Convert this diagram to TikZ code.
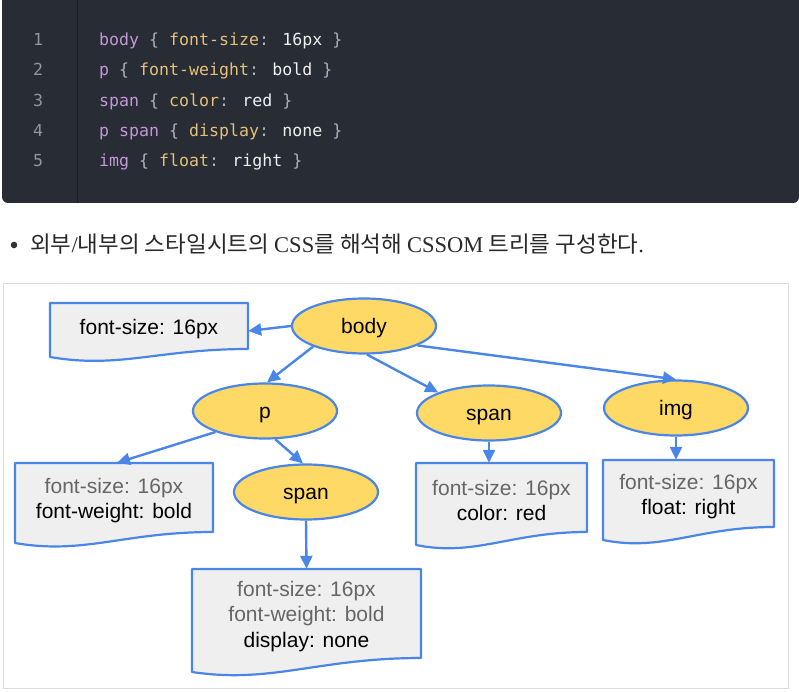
\documentclass[tikz,border=0pt]{standalone}
\usepackage{fontspec}
\setmainfont{Liberation Sans}
\newfontfamily\codefont{DejaVu Sans Mono}
\newfontfamily\krfont{Noto Sans CJK KR}
\newfontfamily\seriffont{Liberation Serif}
\usetikzlibrary{shapes.geometric,arrows.meta,calc}
\definecolor{codebg}{HTML}{282C34}
\definecolor{codeline}{HTML}{1B1E23}
\definecolor{lnum}{HTML}{8F96A0}
\definecolor{csel}{HTML}{C397D8}
\definecolor{cprop}{HTML}{E5C07B}
\definecolor{cbrace}{HTML}{ABB2BF}
\definecolor{cval}{HTML}{F0F0F0}
\definecolor{eblue}{HTML}{4A86E8}
\definecolor{eyellow}{HTML}{FFD966}
\definecolor{boxgray}{HTML}{EFEFEF}
\definecolor{txtgray}{HTML}{666666}
\definecolor{framegray}{HTML}{DDDDDD}
\definecolor{bulletc}{HTML}{333333}
\tikzset{
  codetext/.style={anchor=base west, inner sep=0, font=\codefont\fontsize{16.6}{20}\selectfont},
  lnumtext/.style={anchor=base, inner sep=0, text=lnum, font=\codefont\fontsize{16.6}{20}\selectfont},
  ell/.style={ellipse, draw=eblue, fill=eyellow, line width=2.2pt, minimum width=144pt, minimum height=55pt, inner sep=0, text=black, text height=15pt, text depth=0pt, font=\fontsize{21}{25}\selectfont},
  docline/.style={draw=eblue, fill=boxgray, line width=2.2pt, line join=round},
  docframe/.style={inner sep=0},
  doctext/.style={inner sep=0, align=center, text=black, font=\fontsize{21}{25.5}\selectfont},
  arr/.style={draw=eblue, line width=2.4pt, -{Triangle[length=13pt,width=12pt]}},
}
\newcommand\docbox[7]{%
  \filldraw[docline] ({#2-#4/2},{#3-#5/2}) -- ({#2+#4/2},{#3-#5/2}) -- ({#2+#4/2},{#3+#5/2})
    .. controls ({#2+#4/2-0.45*#4},{#3+#5/2}) and ({#2-#4/2+0.35*#4},{#3+#5/2+#6+12}) ..
    ({#2-#4/2},{#3+#5/2+#6}) -- cycle;
  \node[docframe, minimum width=#4pt, minimum height=#5pt] (#1) at (#2,#3) {};
  \node[doctext] (#1t) at (#2,{#3+3}) {#7};
}
\begin{document}
\begin{tikzpicture}[x=1pt,y=-1pt]
\useasboundingbox (0,0) rectangle (799,692);
% code block
\fill[codebg] (2,0) [rounded corners=6] -- (2,203) -- (799,203) [sharp corners] -- (799,0) -- cycle;
\draw[codeline, line width=1pt] (77,0) -- (77,203);
\node[lnumtext] (n1) at (38,46) {1};
\node[lnumtext] (n2) at (38,76) {2};
\node[lnumtext] (n3) at (38,107) {3};
\node[lnumtext] (n4) at (38,137) {4};
\node[lnumtext] (n5) at (38,167) {5};
\node[codetext] (c1) at (99,46) {\color{csel}body \color{cbrace}\{ \color{cprop}font-size\color{cbrace}: \color{cval}16px \color{cbrace}\}};
\node[codetext] (c2) at (99,76) {\color{csel}p \color{cbrace}\{ \color{cprop}font-weight\color{cbrace}: \color{cval}bold \color{cbrace}\}};
\node[codetext] (c3) at (99,107) {\color{csel}span \color{cbrace}\{ \color{cprop}color\color{cbrace}: \color{cval}red \color{cbrace}\}};
\node[codetext] (c4) at (99,137) {\color{csel}p span \color{cbrace}\{ \color{cprop}display\color{cbrace}: \color{cval}none \color{cbrace}\}};
\node[codetext] (c5) at (99,167) {\color{csel}img \color{cbrace}\{ \color{cprop}float\color{cbrace}: \color{cval}right \color{cbrace}\}};
% bullet line
\fill[bulletc] (14,245) circle (3.3);
\node[anchor=base west, inner sep=0, text=bulletc!80!black, font=\krfont\fontsize{22.5}{26}\selectfont] (kr) at (30,253)
  {외부{\seriffont/}내부의 스타일시트의 {\seriffont CSS}를 해석해 {\seriffont CSSOM} 트리를 구성한다{\seriffont.}};
% frame
\draw[framegray, line width=1pt] (3,283) rectangle (788,688);
% documents
\docbox{box0}{149}{326}{198}{46}{8}{font-size: 16px}
\docbox{box1}{114}{497.5}{198}{69}{11}{{\color{txtgray}font-size: 16px}\\font-weight: bold}
\docbox{box2}{306.5}{613.5}{229}{89}{14}{{\color{txtgray}font-size: 16px}\\{\color{txtgray}font-weight: bold}\\display: none}
\docbox{box3}{501.5}{497.5}{171}{69}{13}{{\color{txtgray}font-size: 16px}\\color: red}
\docbox{box4}{688.5}{493.5}{171}{67}{13}{{\color{txtgray}font-size: 16px}\\float: right}
% ellipses
\node[ell] (body) at (364,326) {body};
\node[ell] (p) at (265,411) {p};
\node[ell] (span) at (489,413) {span};
\node[ell] (img) at (676,408) {img};
\node[ell] (span2) at (306,492) {span};
% arrows
\draw[arr] (body.west) -- ($(box0.east)+(0,5)$);
\draw[arr] (body.202) -- (p.86);
\draw[arr] (body.276) -- (span.158);
\draw[arr] (body.340) -- (img.north);
\draw[arr] (p.203) -- ($(box1.north)+(3,0)$);
\draw[arr] (p.290) -- (span2.96);
\draw[arr] (span2.south) -- (box2.north);
\draw[arr] (span.south) -- (span.south |- box3.north);
\draw[arr] (img.south) -- (img.south |- box4.north);
\end{tikzpicture}
\end{document}
